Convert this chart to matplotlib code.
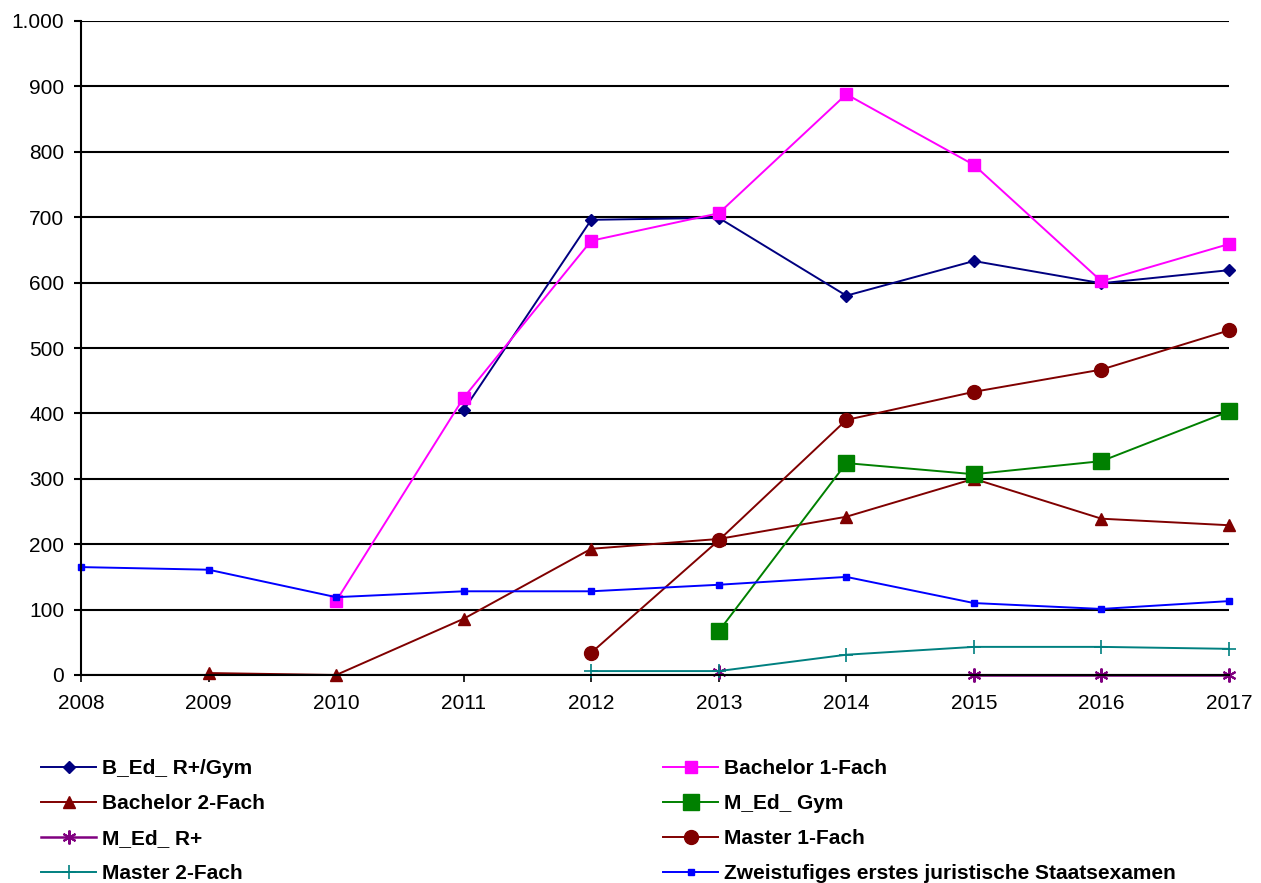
import numpy as np
import matplotlib
matplotlib.use("Agg")
import matplotlib.pyplot as plt
from matplotlib.ticker import FuncFormatter

plt.rcParams['font.family'] = ['Liberation Sans', 'DejaVu Sans']

years = [2008, 2009, 2010, 2011, 2012, 2013, 2014, 2015, 2016, 2017]
nan = np.nan

b_ed = [nan, nan, nan, 405, 696, 699, 580, 633, 599, 619]
bachelor_1 = [nan, nan, 113, 424, 664, 706, 888, 780, 602, 659]
bachelor_2 = [nan, 3, 0, 86, 193, 208, 242, 300, 239, 229]
m_ed_gym = [nan, nan, nan, nan, nan, 67, 324, 307, 327, 403]
m_ed_r = [nan, nan, nan, nan, nan, 5, nan, 0, 0, 0]
master_1 = [nan, nan, nan, nan, 34, 206, 390, 433, 467, 527]
master_2 = [nan, nan, nan, nan, 6, 6, 31, 43, 43, 40]
zweistufig = [165, 161, 119, 128, 128, 138, 150, 110, 101, 113]

labels = ["B_Ed_ R+/Gym", "Bachelor 1-Fach", "Bachelor 2-Fach", "M_Ed_ Gym",
          "M_Ed_ R+", "Master 1-Fach", "Master 2-Fach",
          "Zweistufiges erstes juristische Staatsexamen"]

fig = plt.figure(figsize=(12.61, 8.83), dpi=100)
ax = fig.add_axes([81 / 1261, 1 - 675 / 883, (1229 - 81) / 1261, (675 - 21) / 883])

x = np.array(years, dtype=float)
star = (6, 2, 0)

def draw(vals, color, marker, ms, label, mew=1.0, lw=1.4):
    y = np.array(vals, dtype=float)
    h, = ax.plot(x, y, color=color, lw=lw, marker=marker, ms=ms,
                 mfc=color, mec=color, mew=mew, label=label, clip_on=False)
    return h

handles = []
handles.append(draw(b_ed, "#000080", "D", 6, labels[0]))
handles.append(draw(bachelor_1, "#FF00FF", "s", 9, labels[1]))
handles.append(draw(bachelor_2, "#800000", "^", 9, labels[2]))
handles.append(draw(m_ed_gym, "#008000", "s", 12, labels[3]))
handles.append(draw(m_ed_r, "#800080", star, 10, labels[4], mew=1.5, lw=1.8))
handles.append(draw(master_1, "#800000", "o", 10, labels[5]))
handles.append(draw(master_2, "#008080", "+", 10, labels[6], mew=1.2))
handles.append(draw(zweistufig, "#0000FF", "s", 5, labels[7]))

ax.set_xlim(2008, 2017)
ax.set_ylim(0, 1000)
ax.set_xticks(years)
ax.set_yticks(range(0, 1001, 100))
ax.yaxis.set_major_formatter(FuncFormatter(lambda v, p: "{:,.0f}".format(v).replace(",", ".")))
ax.grid(axis="y", color="black", lw=1.5)
ax.set_axisbelow(True)
for s in ["top", "right"]:
    ax.spines[s].set_visible(False)
ax.spines["left"].set_linewidth(1.5)
ax.spines["bottom"].set_linewidth(1.5)
ax.tick_params(axis="x", direction="out", length=5, width=1.2, pad=9, labelsize=15)
ax.tick_params(axis="y", direction="out", length=5, width=1.5, pad=7, labelsize=15)

leg_kw = dict(frameon=False, prop={"weight": "bold", "size": 15},
              handlelength=2.65, handletextpad=0.3, labelspacing=0.77,
              borderaxespad=0, borderpad=0)
left = [handles[i] for i in (0, 2, 4, 6)]
right = [handles[i] for i in (1, 3, 5, 7)]
fig.legend(left, [h.get_label() for h in left], loc="upper left",
           bbox_to_anchor=(41 / 1261, 1 - 759 / 883), **leg_kw)
fig.legend(right, [h.get_label() for h in right], loc="upper left",
           bbox_to_anchor=(663 / 1261, 1 - 759 / 883), **leg_kw)

fig.savefig("out.png", dpi=100)
